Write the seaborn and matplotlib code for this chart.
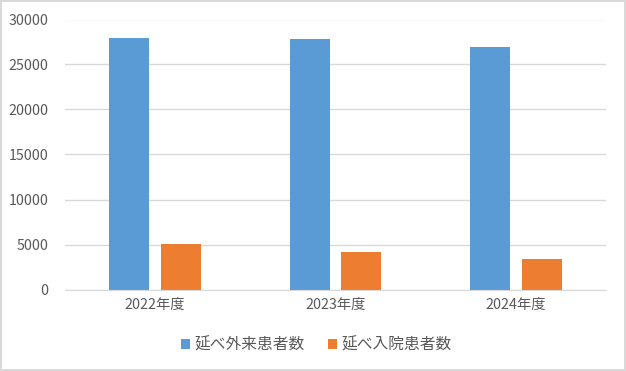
import seaborn as sns
import matplotlib.pyplot as plt
import pandas as pd

# chart values
years = ['2022年度', '2023年度', '2024年度']
outpatients = [27950, 27850, 26950]
inpatients = [5050, 4170, 3390]
series_names = ['延べ外来患者数', '延べ入院患者数']

data = pd.DataFrame({
    'year': years * 2,
    'count': outpatients + inpatients,
    'kind': [series_names[0]] * 3 + [series_names[1]] * 3,
})

sns.set_style('white')
plt.rcParams['font.family'] = ['Noto Sans CJK JP', 'DejaVu Sans']

fig = plt.figure(figsize=(6.26, 3.71), dpi=100)
fig.patch.set_edgecolor('#d9d9d9')
fig.patch.set_linewidth(1.5)
ax = fig.add_axes([65 / 626, 1 - 289.5 / 371, 541 / 626, 270 / 371])

sns.barplot(data=data, x='year', y='count', hue='kind',
            palette=['#5b9bd5', '#ed7d31'], width=0.572, gap=0.22,
            saturation=1, linewidth=0, ax=ax)

ax.set_ylim(0, 30000)
ax.set_yticks(range(0, 30001, 5000))
ax.set_xlim(-0.5, 2.5)
ax.yaxis.grid(True, color='#d9d9d9', linewidth=1)
ax.set_axisbelow(True)
for side in ['top', 'right', 'left']:
    ax.spines[side].set_visible(False)
ax.spines['bottom'].set_color('#d9d9d9')
ax.tick_params(axis='both', length=0, colors='#595959', labelsize=10.3)
ax.tick_params(axis='x', pad=6)
ax.tick_params(axis='y', pad=12)
ax.set_xlabel('')
ax.set_ylabel('')

# legend centred on the whole figure, like the Excel original
handles, labels = ax.get_legend_handles_labels()
ax.get_legend().remove()
fig.legend(handles, labels, loc='center', bbox_to_anchor=(0.505, 345 / 371 * -1 + 1),
           ncol=2, frameon=False,
           handlelength=0.6, handleheight=0.6, handletextpad=0.25,
           columnspacing=1.5, fontsize=11.3, labelcolor='#595959')

fig.savefig('out.png', dpi=100)
